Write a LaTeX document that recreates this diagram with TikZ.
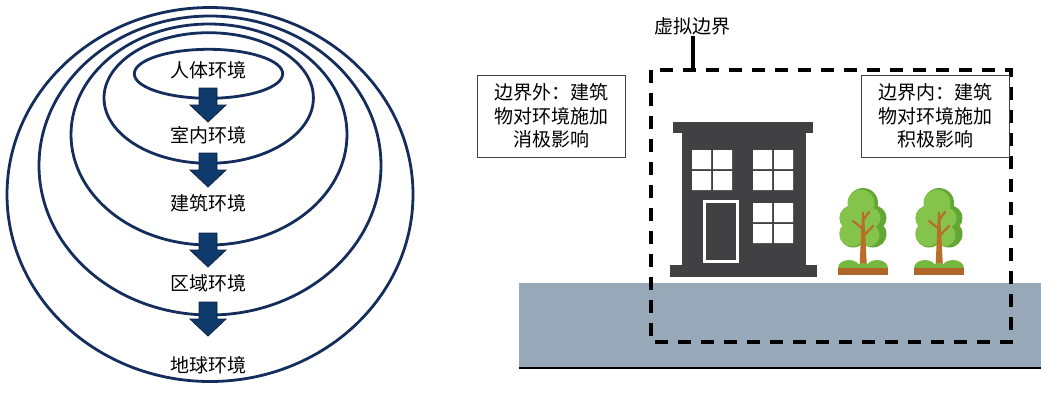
\documentclass[tikz,border=0pt]{standalone}
\usepackage{fontspec}
\setmainfont{Noto Sans CJK SC}
\usepackage{tikz}
\usetikzlibrary{positioning}

\definecolor{ringblue}{RGB}{20,45,92}
\definecolor{arrowblue}{RGB}{14,58,108}
\definecolor{bldggray}{RGB}{65,64,66}
\definecolor{groundgray}{RGB}{151,168,184}
\definecolor{leaflight}{RGB}{132,196,74}
\definecolor{leafdark}{RGB}{98,166,52}
\definecolor{grassgreen}{RGB}{116,184,62}
\definecolor{barkbrown}{RGB}{186,108,42}
\definecolor{soilbrown}{RGB}{176,102,40}

\tikzset{
  ring/.style={draw=ringblue, line width=2.8pt},
  envlabel/.style={font=\fontsize{19}{22}\selectfont, inner sep=1pt},
  blockarrow/.style={fill=arrowblue, draw=ringblue!70!black, line width=0.8pt},
  notebox/.style={draw=black!75, fill=white, line width=1pt, align=center,
    font=\fontsize{19}{23.5}\selectfont, minimum width=148pt, minimum height=82pt, inner sep=0pt},
  boundary/.style={line width=3.5pt, dash pattern=on 13pt off 10pt},
}

% 2x2 window panes, top-left corner at (#1,#2)
\newcommand{\panes}[2]{%
  \fill[white] (#1,#2) rectangle +(19,19) (#1+21,#2) rectangle +(19,19)
    (#1,#2+21) rectangle +(19,19) (#1+21,#2+21) rectangle +(19,19);}

% a small tree standing on y=268, centred at x=#1
\newcommand{\drawtree}[1]{%
  \begin{scope}[shift={(#1,0)}]
    \fill[leafdark] (0,203) circle (15) (-11,218) circle (12.5) (11,218) circle (12.5)
      (-10,234) circle (13.5) (10,234) circle (13.5) (0,224) circle (16);
    \fill[leaflight] (-2,203) circle (13.5) (-12,218) circle (11.5) (7,218) circle (10.5)
      (-11,234) circle (12.5) (5,235) circle (11.5) (-3,224) circle (14);
    \fill[barkbrown] (-3.5,268) -- (-1,212) -- (1,212) -- (4,268) -- cycle;
    \draw[barkbrown, line width=2.2pt, line cap=round]
      (0.5,236) -- (10,226) (0,229) -- (-10,221) (0,220) -- (6,212);
    \begin{scope}
      \clip (-26,250) rectangle (26,268);
      \fill[grassgreen] (-14,268) ellipse [x radius=11, y radius=8]
        (14,268) ellipse [x radius=11, y radius=8] (0,268) ellipse [x radius=6, y radius=5];
    \end{scope}
    \fill[soilbrown] (-25,268) rectangle (25,275);
  \end{scope}}

\begin{document}
\begin{tikzpicture}[x=1pt, y=-1pt]
  \useasboundingbox (0,0) rectangle (1041,392);

  % nested environments
  \draw[ring] (210,194.5) ellipse [x radius=203, y radius=187];
  \draw[ring] (210,165.5) ellipse [x radius=171, y radius=149.5];
  \draw[ring] (209,134.5) ellipse [x radius=138, y radius=110.5];
  \draw[ring] (208.7,98) ellipse [x radius=104.7, y radius=65.3];
  \draw[ring] (208.5,73.8) ellipse [x radius=74.2, y radius=24.5];

  \node[envlabel] (body)     at (208,70)  {人体环境};
  \node[envlabel] (indoor)   at (208,135) {室内环境};
  \node[envlabel] (building) at (208,203) {建筑环境};
  \node[envlabel] (region)   at (208,283) {区域环境};
  \node[envlabel] (earth)    at (208,365) {地球环境};

  % block arrows across each ring
  \foreach \t in {88,153,233,302}
    \filldraw[blockarrow] (199,\t) -- (217,\t) -- (217,\t+17) -- (226,\t+17)
      -- (208,\t+34) -- (190,\t+17) -- (199,\t+17) -- cycle;

  % ground
  \fill[groundgray] (519,283) rectangle (1041,368);
  \draw[line width=2pt] (519,368) -- (1041,368);

  % building
  \fill[bldggray] (673,122) rectangle (813,133); % cornice
  \fill[bldggray] (682,133) rectangle (806,265); % body
  \fill[bldggray] (670,265) rectangle (817,277); % base
  \panes{692}{150}
  \panes{753}{150}
  \panes{753}{203}
  \fill[white] (703,200) rectangle (739,263);    % door
  \fill[bldggray] (706,203) rectangle (736,260);

  \drawtree{863}
  \drawtree{939}

  % virtual boundary
  \coordinate (tick) at (693,70);
  \draw[boundary] (651,70) rectangle (1011,342);
  \node[envlabel] (vb) at (692,26) {虚拟边界};
  \draw[line width=3.5pt] (vb.south -| tick) -- (tick);

  \node[notebox] (outside) at (551,116) {边界外：建筑\\物对环境施加\\消极影响};
  \node[notebox] (inside)  at (935,116) {边界内：建筑\\物对环境施加\\积极影响};
\end{tikzpicture}
\end{document}
